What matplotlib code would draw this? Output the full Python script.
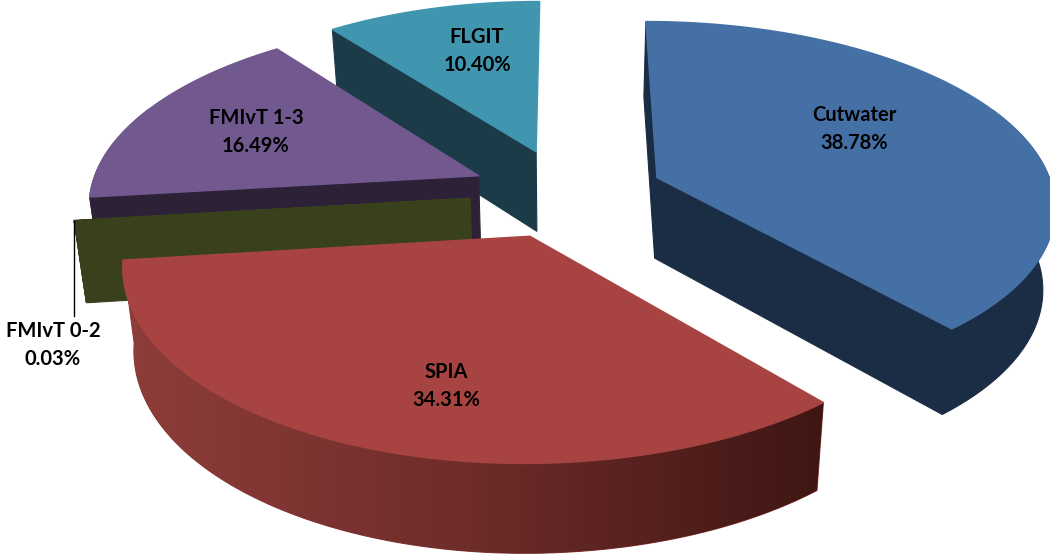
import numpy as np
import matplotlib
matplotlib.use("Agg")
import matplotlib.pyplot as plt
from matplotlib.colors import LinearSegmentedColormap
from matplotlib.patches import Polygon

labels = ["Cutwater", "SPIA", "FMIvT 0-2", "FMIvT 1-3", "FLGIT"]
shares = [38.78, 34.31, 0.03, 16.49, 10.40]
top_colors = ["#4570A6", "#A74441", "#38411C", "#71588F", "#4096AF"]
side_colors = ["#1A2D44", "#8A3B38", "#38411C", "#2D2138", "#1A3B47"]
label_pos = [(854, 129), (446, 386), (53, 345), (256, 132), (477, 51)]

# pie scene, in image pixels
cx, cy = 566, 193
rx_right, rx_left = 397, 389
ry = 182
persp = 0.14
explode = 0.247
depth = 81
shrink = 0.975


def project(u, v):
    s = 1 / (1 + persp * v)
    rx = rx_right if u > 0 else rx_left
    return cx + rx * u * s, cy - ry * v * s, s


def lower(p):
    return cx + (p[0] - cx) * shrink, p[1] + depth * p[2] ** 0.55


fig = plt.figure(figsize=(10.5, 5.59), dpi=100)
ax = fig.add_axes([0, 0, 1, 1])


def wall(points, color, z):
    outline = [p[:2] for p in points] + [lower(p) for p in points[::-1]]
    patch = Polygon(outline, closed=True, fc=color, ec=color, lw=0.8, zorder=z)
    ax.add_patch(patch)
    return patch


total = sum(shares)
edges = np.cumsum([0] + shares) / total * 2 * np.pi
order = [4, 3, 2, 1, 0]
spia_fade = LinearSegmentedColormap.from_list("fade", ["#8F3E3A", "#6E2C2A", "#3F1613"])

for n, i in enumerate(order):
    t0, t1 = edges[i], edges[i + 1]
    mid = (t0 + t1) / 2
    ou, ov = explode * np.sin(mid), explode * np.cos(mid)
    th = np.linspace(t0, t1, max(3, int((t1 - t0) * 60)))
    apex = project(ou, ov)
    rim = [project(ou + np.sin(a), ov + np.cos(a)) for a in th]
    z = 10 * (n + 1)

    # only the cut faces turned to the viewer
    if np.sin(t0) < 0.01:
        wall([apex, rim[0]], side_colors[i], z)
    if np.sin(t1) > 0.01:
        wall([apex, rim[-1]], side_colors[i], z)
    front = [p for p, a in zip(rim, th) if np.cos(a) < 0.4]
    if front:
        patch = wall(front, side_colors[i], z + 1)
        if labels[i] == "SPIA":
            im = ax.imshow(np.linspace(0, 1, 256).reshape(1, -1), cmap=spia_fade, aspect="auto",
                           extent=(115, 825, 560, 240), zorder=z + 1)
            im.set_clip_path(patch)

    pts = [apex[:2]] + [r[:2] for r in rim]
    ax.add_patch(Polygon(pts, closed=True, fc=top_colors[i], ec=top_colors[i], lw=1, zorder=z + 2))
    if labels[i] == "FMIvT 0-2":
        ax.plot([rim[0][0], rim[0][0]], [rim[0][1], 316], color="black", lw=1, zorder=100)

    ax.text(label_pos[i][0], label_pos[i][1], "%s\n%.2f%%" % (labels[i], shares[i]),
            family="Lato", fontweight="bold", fontsize=14.5, color="black",
            ha="center", va="center", linespacing=1.45, zorder=200)

ax.set_xlim(0, 1050)
ax.set_ylim(559, 0)
ax.axis("off")
fig.savefig("out.png", dpi=100, facecolor="white")
